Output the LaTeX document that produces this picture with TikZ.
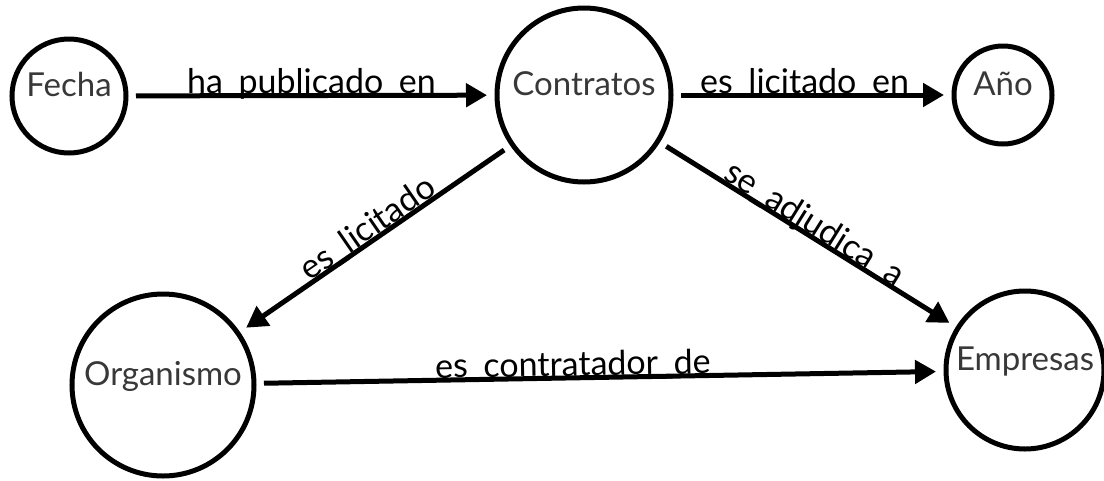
\documentclass[tikz,border=0pt]{standalone}
\usepackage{fontspec}
\setmainfont{Lato}
\usetikzlibrary{arrows.meta}

\begin{document}
\begin{tikzpicture}[x=1pt,y=-1pt,
    vert/.style={circle,draw,line width=5pt,inner sep=0pt,outer sep=10pt,
      text height=0pt,text depth=0pt,
      text=black!78,font=\fontsize{33}{33}\selectfont},
    rel/.style={line width=5pt,-{Triangle[length=21pt,width=23pt]}},
    lbl/.style={sloped,anchor=base,yshift=2pt,inner sep=0pt,
      font=\fontsize{34}{34}\selectfont}]
  \useasboundingbox (0,0) rectangle (1104,480);
  \node[vert,minimum size=114pt] (fecha) at (69,96) {Fecha};
  \node[vert,minimum size=174pt] (contratos) at (584,95) {Contratos};
  \node[vert,minimum size=98pt] (anio) at (1003,95) {Año};
  \node[vert,minimum size=182pt] (organismo) at (163,385) {Organismo};
  \node[vert,minimum size=158pt] (empresas) at (1025,370) {Empresas};
  \draw[rel] (fecha) -- node[lbl] {ha\_publicado\_en} (contratos);
  \draw[rel] (contratos) -- node[lbl,pos=.47] {es\_licitado\_en} (anio);
  \draw[rel] (contratos) -- node[lbl] {es\_licitado} (organismo);
  \draw[rel] (contratos) -- node[lbl] {se\_adjudica\_a} (empresas);
  \draw[rel] (organismo) -- node[lbl,pos=.46] {es\_contratador\_de} (empresas);
\end{tikzpicture}
\end{document}
